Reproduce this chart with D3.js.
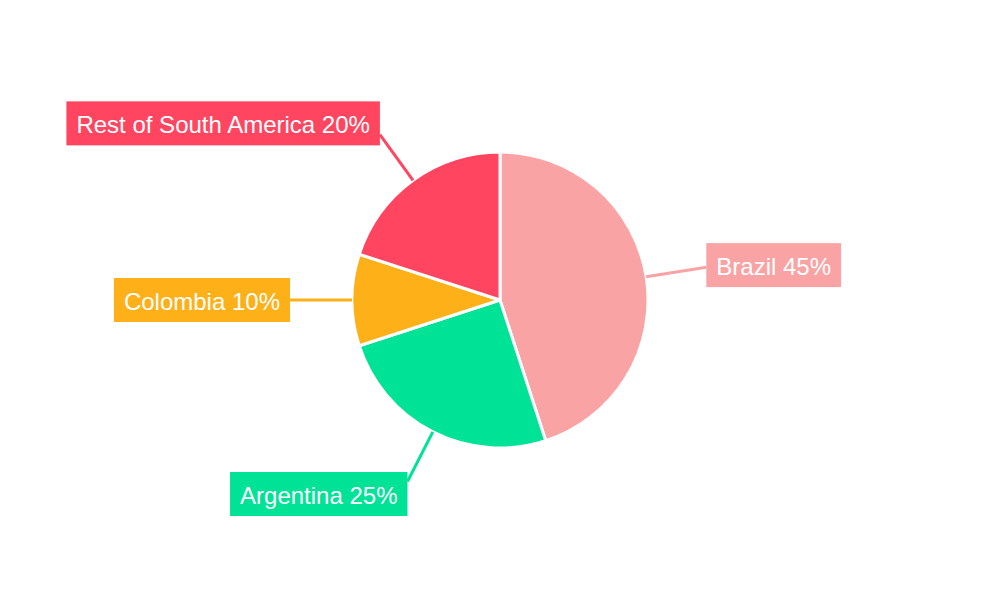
<!DOCTYPE html>
<html><head><meta charset="utf-8">
<script src="https://cdn.jsdelivr.net/npm/d3@7"></script>
<style>body{margin:0;background:#fff}svg{display:block}</style>
</head><body>
<svg id="c" width="1000" height="600"></svg>
<script>
const categories = ["Brazil", "Argentina", "Colombia", "Rest of South America"];
const values = [45, 25, 10, 20];
const colors = ["#f9a3a4", "#00e396", "#feb019", "#ff4560"];

const svg = d3.select("#c");
const cx = 500, cy = 300, R = 148;
const g = svg.append("g").attr("transform", `translate(${cx},${cy})`);
const data = categories.map((c, i) => ({name: c, value: values[i], color: colors[i]}));
const pie = d3.pie().value(d => d.value).sort(null);
const arcs = pie(data);
const arc = d3.arc().innerRadius(0).outerRadius(R);

g.selectAll("path.s").data(arcs).join("path")
  .attr("d", arc).attr("fill", d => d.data.color)
  .attr("stroke", "#fff").attr("stroke-width", 3).attr("stroke-linejoin", "round");

arcs.forEach(a => {
  const m = (a.startAngle + a.endAngle) / 2;
  const ux = Math.sin(m), uy = -Math.cos(m);
  const Rline = 210 - 7 * Math.abs(uy);
  const x0 = ux * R, y0 = uy * R, x1 = ux * Rline, y1 = uy * Rline;
  g.append("line").attr("x1", x0).attr("y1", y0).attr("x2", x1).attr("y2", y1)
    .attr("stroke", a.data.color).attr("stroke-width", 3);
  const lab = g.append("g");
  const t = lab.append("text").text(`${a.data.name} ${a.data.value}%`)
    .attr("font-family", "'Liberation Sans', Arial, sans-serif")
    .attr("font-size", 24).attr("fill", "#fff").attr("dominant-baseline", "central");
  const w = t.node().getComputedTextLength() + 20;
  const h = 44;
  const right = ux >= 0;
  const bx = right ? x1 : x1 - w;
  const byc = y1 + uy * 14;
  lab.insert("rect", "text").attr("x", bx).attr("y", byc - h / 2).attr("width", w).attr("height", h)
    .attr("fill", a.data.color);
  t.attr("x", bx + 10).attr("y", byc + 1);
});
</script>
</body></html>
